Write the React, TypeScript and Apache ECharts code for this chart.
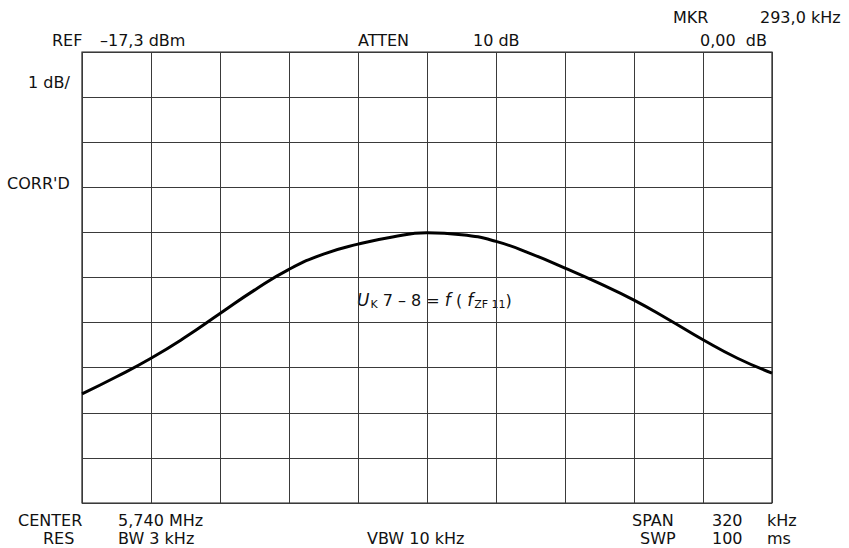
import React, { useEffect, useRef } from "react";
import * as echarts from "echarts";

// Frequency offset from centre (kHz) and level relative to REF (dB)
const freqOffsetKHz = [-160, -144, -128, -112, -96, -80, -64, -48, -32, -16, 0, 16, 32, 48, 64, 80, 96, 112, 128, 144, 160];
const levelDb = [-7.58, -7.2, -6.79, -6.32, -5.8, -5.28, -4.82, -4.48, -4.26, -4.1, -4.01, -4.05, -4.2, -4.47, -4.79, -5.13, -5.5, -5.93, -6.38, -6.79, -7.12];

const xTicks = { min: -160, max: 160, interval: 32 };
const yTicks = { min: -10, max: 0, interval: 1 };

const topLabels = [
  { text: "REF", x: 52, y: 40 },
  { text: "–17,3 dBm", x: 100, y: 40 },
  { text: "ATTEN", x: 358, y: 40 },
  { text: "10 dB", x: 473, y: 40 },
  { text: "0,00  dB", x: 700, y: 40 },
  { text: "MKR", x: 673, y: 17 },
  { text: "293,0 kHz", x: 760, y: 17 },
  { text: "1 dB/", x: 28, y: 82 },
  { text: "CORR'D", x: 7, y: 183 },
];
const bottomLabels = [
  { text: "CENTER", x: 18, y: 520 },
  { text: "5,740 MHz", x: 118, y: 520 },
  { text: "RES", x: 43, y: 538 },
  { text: "BW 3 kHz", x: 118, y: 538 },
  { text: "VBW 10 kHz", x: 367, y: 538 },
  { text: "SPAN", x: 632, y: 520 },
  { text: "320", x: 712, y: 520 },
  { text: "kHz", x: 767, y: 520 },
  { text: "SWP", x: 640, y: 538 },
  { text: "100", x: 712, y: 538 },
  { text: "ms", x: 767, y: 538 },
];

const FONT = "'DejaVu Sans'";

export default function App() {
  const ref = useRef<HTMLDivElement>(null);
  useEffect(() => {
    document.body.style.margin = "0";
    const chart = echarts.init(ref.current!, null, { renderer: "svg" });
    const textEls = [...topLabels, ...bottomLabels].map((l) => ({
      type: "text",
      x: l.x,
      y: l.y,
      style: {
        text: l.text,
        fill: "#111",
        font: `16px ${FONT}`,
        verticalAlign: "middle",
        align: "left",
      },
    }));
    chart.setOption({
      animation: false,
      backgroundColor: "#fff",
      grid: {
        left: 82,
        right: 77,
        top: 52,
        bottom: 45,
        show: true,
        borderColor: "#222",
        borderWidth: 1.2,
      },
      xAxis: {
        type: "value",
        min: xTicks.min,
        max: xTicks.max,
        interval: xTicks.interval,
        axisLabel: { show: false },
        axisTick: { show: false },
        axisLine: { show: false },
        splitLine: { show: true, lineStyle: { color: "#3a3a3a", width: 1 } },
      },
      yAxis: {
        type: "value",
        min: yTicks.min,
        max: yTicks.max,
        interval: yTicks.interval,
        axisLabel: { show: false },
        axisTick: { show: false },
        axisLine: { show: false },
        splitLine: { show: true, lineStyle: { color: "#3a3a3a", width: 1 } },
      },
      series: [
        {
          type: "line",
          data: freqOffsetKHz.map((x, i) => [x, levelDb[i]]),
          smooth: 0.5,
          showSymbol: false,
          lineStyle: { color: "#000", width: 3 },
        },
      ],
      graphic: [
        ...textEls,
        {
          type: "text",
          x: 357,
          y: 300,
          style: {
            text: "{i|U}{sub|K}{n| 7 – 8 = }{i|f}{n| ( }{i|f}{sub|ZF 11}{n|)}",
            verticalAlign: "middle",
            fill: "#111",
            rich: {
              i: { font: `italic 17px ${FONT}`, fill: "#111" },
              n: { font: `16px ${FONT}`, fill: "#111" },
              sub: { font: `11px ${FONT}`, fill: "#111", padding: [8, 0, 0, 1] },
            },
          },
        },
      ],
    });
    return () => chart.dispose();
  }, []);
  return <div ref={ref} style={{ width: 849, height: 548 }} />;
}
